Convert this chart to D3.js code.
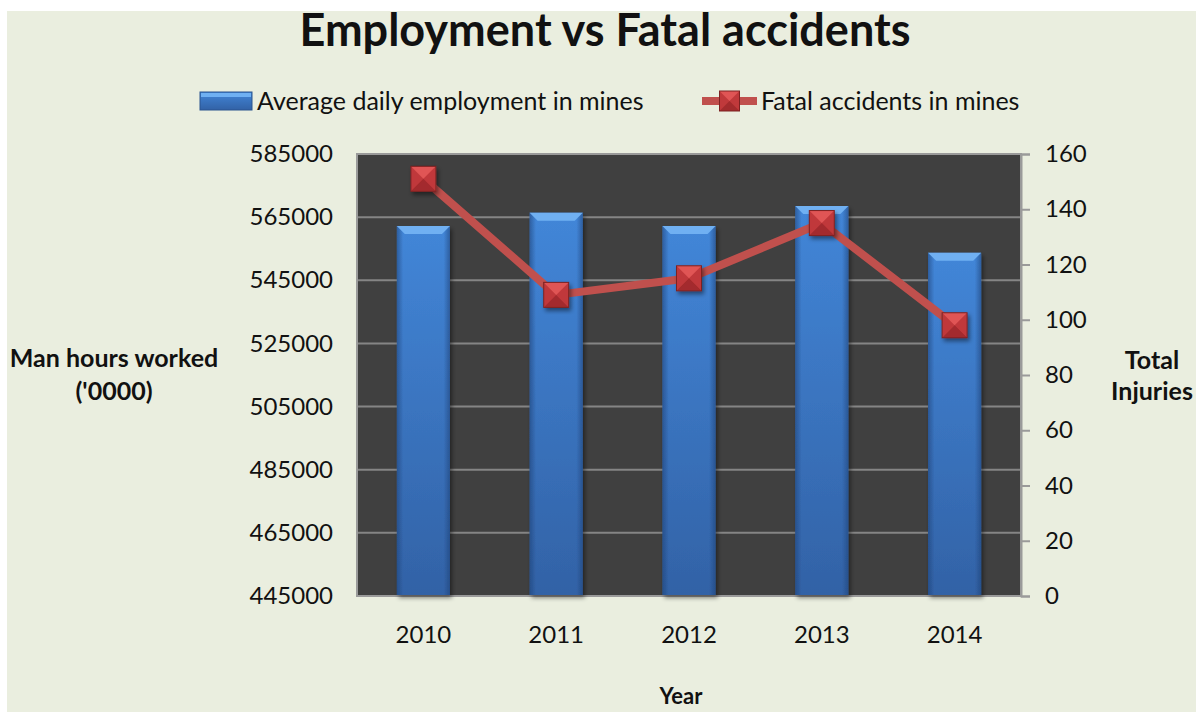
<!DOCTYPE html>
<html>
<head>
<meta charset="utf-8">
<script src="https://cdn.jsdelivr.net/npm/d3@7"></script>
<style>
  html, body { margin: 0; padding: 0; background: #fff; }
  svg { display: block; }
  text { font-family: Lato, "Open Sans", sans-serif; fill: #111; }
</style>
</head>
<body>
<div id="chart"></div>
<script>
const years = ['2010', '2011', '2012', '2013', '2014'];
const employment = [562200, 566400, 562200, 568500, 553700];
const fatal = [151, 109, 115, 135, 98];
const leftTicks = [445000, 465000, 485000, 505000, 525000, 545000, 565000, 585000];
const rightTicks = [0, 20, 40, 60, 80, 100, 120, 140, 160];

const width = 1196, height = 713;
const plot = { left: 357, right: 1021, top: 154, bottom: 596 };

const svg = d3.select('#chart').append('svg')
  .attr('width', width)
  .attr('height', height);

const defs = svg.append('defs');
const barGrad = defs.append('linearGradient')
  .attr('id', 'barGrad').attr('x1', 0).attr('y1', 0).attr('x2', 0).attr('y2', 1);
barGrad.append('stop').attr('offset', '0%').attr('stop-color', '#4286d8');
barGrad.append('stop').attr('offset', '100%').attr('stop-color', '#3262a6');
const barSide = defs.append('linearGradient')
  .attr('id', 'barSide').attr('x1', 0).attr('y1', 0).attr('x2', 1).attr('y2', 0);
barSide.append('stop').attr('offset', '0%').attr('stop-color', '#1d3f73').attr('stop-opacity', 0.55);
barSide.append('stop').attr('offset', '12%').attr('stop-color', '#1d3f73').attr('stop-opacity', 0);
barSide.append('stop').attr('offset', '88%').attr('stop-color', '#1d3f73').attr('stop-opacity', 0);
barSide.append('stop').attr('offset', '100%').attr('stop-color', '#1d3f73').attr('stop-opacity', 0.55);
const shadow = defs.append('filter').attr('id', 'shadow')
  .attr('x', '-30%').attr('y', '-30%').attr('width', '160%').attr('height', '160%');
shadow.append('feDropShadow').attr('dx', 2).attr('dy', 3).attr('stdDeviation', 2)
  .attr('flood-color', '#000').attr('flood-opacity', 0.45);

// backgrounds
svg.append('rect').attr('x', 7).attr('y', 11).attr('width', width - 7).attr('height', height - 12)
  .attr('fill', '#eaeedf');
svg.append('rect')
  .attr('x', plot.left).attr('y', plot.top)
  .attr('width', plot.right - plot.left).attr('height', plot.bottom - plot.top)
  .attr('fill', '#404040');

const x = d3.scaleBand().domain(years).range([plot.left, plot.right])
  .paddingInner(0.6).paddingOuter(0.3);
const yL = d3.scaleLinear().domain([445000, 585000]).range([plot.bottom, plot.top]);
const yR = d3.scaleLinear().domain([0, 160]).range([plot.bottom, plot.top]);

// gridlines
svg.append('g').selectAll('line').data(leftTicks).enter().append('line')
  .attr('x1', plot.left).attr('x2', plot.right)
  .attr('y1', d => yL(d)).attr('y2', d => yL(d))
  .attr('stroke', '#858585').attr('stroke-width', 2);

// plot border
svg.append('path')
  .attr('d', `M${plot.left},${plot.bottom}V${plot.top}H${plot.right}V${plot.bottom}Z`)
  .attr('fill', 'none').attr('stroke', '#9a9a9a').attr('stroke-width', 2);

// left axis
const axisL = svg.append('g').attr('transform', `translate(${plot.left},0)`)
  .call(d3.axisLeft(yL).tickValues(leftTicks).tickFormat(d3.format('d')).tickSize(0).tickPadding(24));
axisL.select('.domain').remove();
axisL.selectAll('text').attr('font-size', 24).attr('font-family', 'Lato').attr('fill', '#1a1a1a');

// right axis
const axisR = svg.append('g').attr('transform', `translate(${plot.right},0)`)
  .call(d3.axisRight(yR).tickValues(rightTicks).tickSize(9).tickPadding(15));
axisR.select('.domain').attr('stroke', '#9a9a9a').attr('stroke-width', 2);
axisR.selectAll('.tick line').attr('stroke', '#9a9a9a').attr('stroke-width', 2);
axisR.selectAll('text').attr('font-size', 24).attr('font-family', 'Lato').attr('fill', '#1a1a1a');

// bottom axis labels
const axisB = svg.append('g').attr('transform', `translate(0,${plot.bottom})`)
  .call(d3.axisBottom(x).tickSize(0).tickPadding(30));
axisB.select('.domain').remove();
axisB.selectAll('text').attr('font-size', 24).attr('font-family', 'Lato').attr('fill', '#1a1a1a');

// bars
const bw = x.bandwidth();
const bars = svg.append('g').selectAll('g').data(years).enter().append('g')
  .attr('filter', 'url(#shadow)');
bars.append('rect')
  .attr('x', d => x(d))
  .attr('y', (d, i) => yL(employment[i]))
  .attr('width', bw)
  .attr('height', (d, i) => plot.bottom - 1 - yL(employment[i]))
  .attr('fill', 'url(#barGrad)');
bars.append('rect')
  .attr('x', d => x(d))
  .attr('y', (d, i) => yL(employment[i]))
  .attr('width', bw)
  .attr('height', (d, i) => plot.bottom - 1 - yL(employment[i]))
  .attr('fill', 'url(#barSide)');
bars.append('path')
  .attr('d', (d, i) => {
    const x0 = x(d), y0 = yL(employment[i]), b = 8;
    return `M${x0},${y0}H${x0 + bw}L${x0 + bw - b},${y0 + b}H${x0 + b}Z`;
  })
  .attr('fill', '#6fb0f2');

// line
const line = d3.line()
  .x((d, i) => x(years[i]) + bw / 2)
  .y(d => yR(d));
svg.append('path').datum(fatal)
  .attr('d', line)
  .attr('fill', 'none')
  .attr('stroke', '#c0504d')
  .attr('stroke-width', 8)
  .attr('stroke-linejoin', 'round');

function drawMarker(g, cx, cy, s) {
  const h = s / 2;
  g.append('rect').attr('x', cx - h).attr('y', cy - h).attr('width', s).attr('height', s)
    .attr('fill', '#c0393b');
  g.append('path')
    .attr('d', `M${cx - h},${cy - h}H${cx + h}L${cx},${cy}Z`)
    .attr('fill', '#e05555');
  g.append('path')
    .attr('d', `M${cx - h},${cy + h}H${cx + h}L${cx},${cy}Z`)
    .attr('fill', '#a32b2d');
  g.append('rect').attr('x', cx - h).attr('y', cy - h).attr('width', s).attr('height', s)
    .attr('fill', 'none').attr('stroke', '#7d2222').attr('stroke-width', 1);
}
const markers = svg.append('g');
fatal.forEach((v, i) => {
  const g = markers.append('g').attr('filter', 'url(#shadow)');
  drawMarker(g, x(years[i]) + bw / 2, yR(v), 25);
});

// title
svg.append('text')
  .attr('x', 605).attr('y', 46)
  .attr('text-anchor', 'middle')
  .attr('font-size', 45).attr('font-weight', 'bold')
  .text('Employment vs Fatal accidents');

// legend
const leg = svg.append('g');
leg.append('rect').attr('x', 200).attr('y', 92).attr('width', 52).attr('height', 18)
  .attr('fill', 'url(#barGrad)').attr('stroke', '#2a5590').attr('stroke-width', 1);
leg.append('rect').attr('x', 201).attr('y', 93).attr('width', 50).attr('height', 4)
  .attr('fill', '#6fb0f2');
leg.append('text').attr('x', 257).attr('y', 101).attr('dy', '0.35em')
  .attr('font-size', 25).text('Average daily employment in mines');
leg.append('line').attr('x1', 702).attr('x2', 757).attr('y1', 101).attr('y2', 101)
  .attr('stroke', '#c0504d').attr('stroke-width', 8);
drawMarker(leg.append('g'), 729.5, 101, 20);
leg.append('text').attr('x', 761).attr('y', 101).attr('dy', '0.35em')
  .attr('font-size', 25).text('Fatal accidents in mines');

// axis titles
const yTitle = svg.append('text')
  .attr('x', 114).attr('y', 358)
  .attr('text-anchor', 'middle').attr('font-size', 25).attr('font-weight', 'bold');
yTitle.append('tspan').attr('x', 114).attr('dy', '0.35em').text('Man hours worked');
yTitle.append('tspan').attr('x', 114).attr('dy', 33).text("('0000)");

const rTitle = svg.append('text')
  .attr('x', 1152).attr('y', 360)
  .attr('text-anchor', 'middle').attr('font-size', 25).attr('font-weight', 'bold');
rTitle.append('tspan').attr('x', 1152).attr('dy', '0.35em').text('Total');
rTitle.append('tspan').attr('x', 1152).attr('dy', 31).text('Injuries');

svg.append('text')
  .attr('x', 681).attr('y', 704)
  .attr('text-anchor', 'middle').attr('font-size', 22).attr('font-weight', 'bold')
  .text('Year');
</script>
</body>
</html>
